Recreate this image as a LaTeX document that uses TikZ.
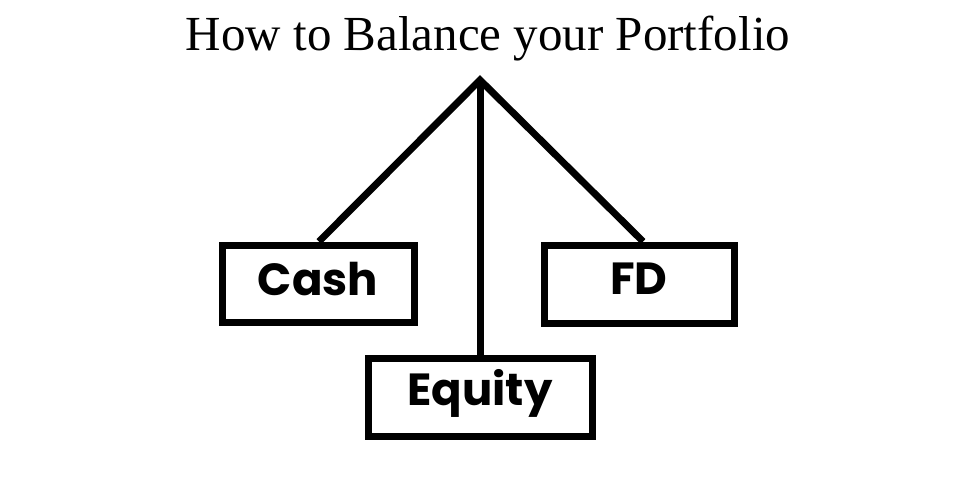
\documentclass[tikz,border=0pt]{standalone}
\usepackage{fontspec}
\setmainfont{Liberation Serif}
\newfontfamily\boxfont{Poppins}[UprightFont=* Bold]
\begin{document}
\begin{tikzpicture}[x=1pt,y=-1pt,
  itembox/.style={draw=black,line width=7pt,fill=white,inner sep=0pt},
  itemtext/.style={font=\boxfont\fontsize{45}{50}\selectfont,inner sep=0pt},
  link/.style={line width=7pt,line join=miter}]
\useasboundingbox (0,0) rectangle (960,480);
\node[anchor=base,font=\fontsize{49}{54}\selectfont] (title) at (488,50) {How to Balance your Portfolio};
\coordinate (apex) at (480,80);
\node[itembox,minimum width=192pt,minimum height=77pt] (cash) at (318,283.5) {};
\node[itembox,minimum width=190pt,minimum height=78pt] (fd) at (639,284) {};
\node[itembox,minimum width=224pt,minimum height=78pt] (equity) at (480,397) {};
\draw[link] (cash.north -| 319,0) -- (apex) -- (fd.north -| 643,0);
\draw[link] (apex) -- (equity.north);
\node[itemtext] (cashtxt) at ([yshift=4pt]cash.center) {Cash};
\node[itemtext] (fdtxt) at ([yshift=5pt]fd.center) {FD};
\node[itemtext] (eqtxt) at ([yshift=4pt]equity.center) {Equity};
\end{tikzpicture}
\end{document}
